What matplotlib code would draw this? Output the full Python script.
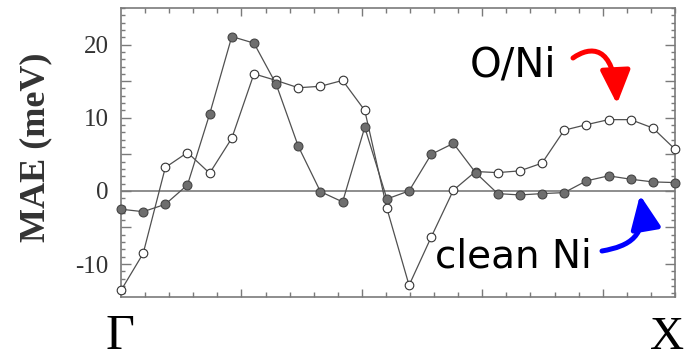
import numpy as np
import matplotlib
matplotlib.use("Agg")
import matplotlib.pyplot as plt
from matplotlib.ticker import MultipleLocator, FixedLocator
from matplotlib.patches import FancyArrowPatch
from matplotlib.path import Path
from matplotlib.transforms import IdentityTransform

plt.rcParams['axes.unicode_minus'] = False

# MAE along the Gamma -> X path, 26 k-points
kpoint = np.arange(26)
mae_oni = [-13.6, -8.55, 3.2, 5.25, 2.42, 7.2, 16.0, 15.1, 14.1, 14.3, 15.1, 11.0, -2.4,
           -12.9, -6.3, 0.1, 2.65, 2.5, 2.74, 3.8, 8.3, 9.05, 9.74, 9.74, 8.6, 5.7]
mae_clean = [-2.5, -2.84, -1.83, 0.82, 10.5, 21.1, 20.2, 14.6, 6.1, -0.1, -1.5, 8.7, -1.1,
             0.0, 5.0, 6.5, 2.5, -0.37, -0.55, -0.37, -0.23, 1.37, 2.06, 1.6, 1.23, 1.14]
ytick_values = [-10, 0, 10, 20]
path_labels = ["\u0393", "X"]
series_labels = ["O/Ni", "clean Ni"]

W, H = 685, 359
fig = plt.figure(figsize=(W / 100, H / 100), dpi=100)
ax = fig.add_axes([121 / W, 1 - 297 / H, 554 / W, 289 / H])

axis_gray = "#7a7a7a"
line_gray = "#505050"

ax.axhline(0, color=axis_gray, lw=1.2, zorder=1)
ax.plot(kpoint, mae_oni, '-', color=line_gray, lw=0.9, marker='o', ms=6.2,
        mfc='white', mec='#333333', mew=0.8, clip_on=False, zorder=3)
ax.plot(kpoint, mae_clean, '-', color=line_gray, lw=0.9, marker='o', ms=6.4,
        mfc='#6e6e6e', mec='#444444', mew=0.8, clip_on=False, zorder=4)

ax.set_xlim(0, 25)
ax.set_ylim(-14.5, 25)

# x ticks: 23 equal divisions, longer marks every fifth one
step = 25 / 23
ax.xaxis.set_major_locator(FixedLocator([i * step for i in (5, 10, 15, 20)]))
ax.xaxis.set_minor_locator(FixedLocator([i * step for i in range(24) if i % 5]))
ax.set_xticklabels([])

# y ticks: long marks every 5 meV, labels every 10 meV, short marks every 1 meV
major_y = np.arange(-10, 25, 5)
ax.set_yticks(major_y, labels=[str(v) if v in ytick_values else "" for v in major_y],
              fontfamily='Liberation Serif', fontsize=18, color='#333333')
ax.yaxis.set_minor_locator(MultipleLocator(1))

ax.tick_params(axis='both', which='both', direction='in', top=True, right=True,
               color=axis_gray, width=1.0)
ax.tick_params(axis='x', which='major', length=6)
ax.tick_params(axis='x', which='minor', length=3.5)
ax.tick_params(axis='y', which='major', length=7, pad=9)
ax.tick_params(axis='y', which='minor', length=3)

for sp in ax.spines.values():
    sp.set_color(axis_gray)
    sp.set_linewidth(1.2)

fig.text(36 / W, 1 - 147.5 / H, "MAE (meV)", rotation=90, ha='center', va='center',
         fontsize=26, fontweight='bold', family='Liberation Serif', color='#333333')

fig.text(120 / W, 1 - 337 / H, path_labels[0], ha='center', va='center',
         fontsize=36, family='Liberation Serif', color='black')
fig.text(667 / W, 1 - 338 / H, path_labels[1], ha='center', va='center',
         fontsize=34, family='Liberation Serif', color='black')

fig.text(470 / W, 1 - 77 / H, series_labels[0], ha='left', va='baseline',
         fontsize=29, family='DejaVu Sans', color='black')
fig.text(435 / W, 1 - 268 / H, series_labels[1], ha='left', va='baseline',
         fontsize=28, family='DejaVu Sans', color='black')


def curved_arrow(points_px, color):
    """Cubic Bezier arrow; points given in pixels from the top-left corner."""
    verts = [(x, H - y) for x, y in points_px]
    path = Path(verts, [Path.MOVETO, Path.CURVE4, Path.CURVE4, Path.CURVE4])
    arrow = FancyArrowPatch(path=path, arrowstyle="-|>,head_length=0.85,head_width=0.38",
                            mutation_scale=24, lw=3.6, color=color,
                            transform=IdentityTransform())
    fig.add_artist(arrow)


curved_arrow([(573, 58), (590, 46), (614, 44), (617, 104)], '#ff0000')
curved_arrow([(602, 251), (630, 246), (647, 236), (640, 195)], '#0000ff')

fig.savefig("out.png", dpi=100)
